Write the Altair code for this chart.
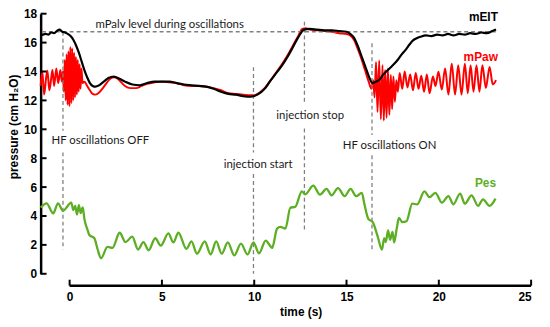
import altair as alt
import pandas as pd

# ---------------- data ----------------
eit_t = [-1.57, -1.45, -1.3, -1.15, -1.0, -0.85, -0.7, -0.55, -0.4, -0.25, -0.1, 0.05, 0.2, 0.35, 0.5, 0.65,
         0.8, 0.95, 1.1, 1.25, 1.4, 1.6, 1.85, 2.1, 2.4, 2.7, 3.0, 3.4, 3.8, 4.2, 4.6, 5.0, 5.4, 5.8, 6.2, 6.6,
         7.0, 7.4, 7.8, 8.2, 8.6, 9.0, 9.4, 9.8, 10.0, 10.3, 10.6, 10.9, 11.2, 11.5, 11.8, 12.1, 12.4, 12.7,
         13.0, 13.4, 13.8, 14.2, 14.6, 15.0, 15.2, 15.4, 15.6, 15.8, 16.0, 16.2, 16.4, 16.6, 16.8, 17.0, 17.2,
         17.4, 17.6, 17.8, 18.0, 18.2, 18.4, 18.6, 18.8, 19.0, 19.3, 19.6, 19.9, 20.2, 20.5, 20.8, 21.1, 21.4,
         21.7, 22.0, 22.3, 22.6, 22.9, 23.1]
eit_v = [16.5, 16.55, 16.6, 16.55, 16.7, 16.65, 16.8, 16.9, 16.75, 16.7, 16.6, 16.45, 16.2, 15.8, 15.3, 14.7,
         14.1, 13.6, 13.2, 13.0, 12.95, 13.05, 13.3, 13.55, 13.65, 13.5, 13.3, 13.1, 13.05, 13.2, 13.3, 13.3,
         13.3, 13.2, 13.1, 13.05, 13.0, 12.95, 12.8, 12.6, 12.45, 12.4, 12.3, 12.25, 12.3, 12.5, 12.85, 13.4,
         13.9, 14.4, 15.0, 15.7, 16.4, 16.9, 16.95, 16.9, 16.85, 16.85, 16.8, 16.75, 16.6, 16.35, 15.8, 15.1,
         14.4, 13.7, 13.2, 13.3, 13.45, 13.8, 14.05, 14.3, 14.55, 14.85, 15.2, 15.5, 15.85, 16.15, 16.3, 16.4,
         16.5, 16.45, 16.55, 16.5, 16.6, 16.5, 16.6, 16.55, 16.65, 16.6, 16.7, 16.65, 16.8, 16.9]

paw_t = [-1.57, -1.48, -1.38, -1.27, -1.2, -1.1, -1.0, -0.93, -0.84, -0.72, -0.62, -0.5, -0.42, -0.36,
         -0.31, -0.26, -0.21, -0.16, -0.11, -0.06, -0.01, 0.04, 0.09, 0.14, 0.19, 0.24, 0.29, 0.34, 0.39,
         0.44, 0.49, 0.54, 0.59, 0.64, 0.7, 0.8, 0.95, 1.1, 1.25, 1.4, 1.6, 1.8, 2.0, 2.2, 2.4, 2.6, 2.8,
         3.0, 3.3, 3.6, 3.9, 4.2, 4.6, 5.0, 5.4, 5.8, 6.2, 6.6, 7.0, 7.4, 7.8, 8.2, 8.6, 9.0, 9.4, 9.8, 10.0,
         10.3, 10.6, 10.9, 11.2, 11.5, 11.8, 12.1, 12.4, 12.6, 12.8, 13.0, 13.4, 13.8, 14.2, 14.6, 15.0, 15.2,
         15.4, 15.6, 15.8, 16.0, 16.2, 16.35, 16.45, 16.52, 16.6, 16.68, 16.77, 16.86, 16.95, 17.02, 17.09,
         17.17, 17.24, 17.32, 17.4, 17.47, 17.54, 17.62, 17.7, 17.78, 17.88, 18.02, 18.15, 18.3, 18.45, 18.6,
         18.75, 18.9, 19.05, 19.2, 19.35, 19.5, 19.68, 19.82, 19.98, 20.16, 20.34, 20.52, 20.7, 20.88, 21.05,
         21.23, 21.41, 21.57, 21.72, 21.88, 22.04, 22.2, 22.36, 22.55, 22.75, 22.92, 23.1]
paw_v = [13.0, 14.0, 12.4, 13.6, 14.05, 12.7, 13.5, 14.1, 13.0, 14.2, 13.2, 14.1, 13.3, 14.0,
         12.6, 14.8, 12.0, 15.2, 11.7, 15.4, 11.6, 15.7, 11.8, 15.6, 12.0, 15.3, 12.2, 15.0, 12.4,
         14.8, 12.6, 14.5, 12.8, 14.2, 13.2, 13.3, 13.0, 12.7, 12.45, 12.4, 12.55, 12.85, 13.2, 13.5, 13.6,
         13.5, 13.25, 13.0, 12.85, 12.85, 13.0, 13.15, 13.25, 13.3, 13.25, 13.2, 13.05, 13.0, 13.0, 12.95,
         12.85, 12.7, 12.5, 12.45, 12.4, 12.35, 12.35, 12.55, 12.9, 13.4, 13.95, 14.5, 15.1, 15.8, 16.5,
         16.95, 17.0, 16.9, 16.85, 16.8, 16.75, 16.65, 16.6, 16.5, 16.2, 15.6, 14.9, 14.1, 13.3, 12.8,
         13.4, 12.2, 14.65, 11.2, 14.77, 10.7, 14.43, 10.6, 14.1, 10.8, 14.2, 11.0, 13.76, 11.4, 13.65, 11.9,
         13.4, 12.6, 13.9, 12.8, 14.0, 12.9, 13.8, 12.7, 13.9, 12.8, 13.7, 12.6, 13.8, 12.5, 13.65, 13.0,
         13.98, 12.75, 14.2, 12.4, 14.54, 12.4, 14.43, 12.4, 14.54, 12.5, 14.43, 12.6, 14.43, 12.6, 14.43,
         12.86, 14.32, 13.1, 13.4]

pes_t = [-1.57, -1.25, -0.89, -0.63, -0.36, 0.09, 0.2, 0.3, 0.4, 0.5, 0.6, 0.71, 0.8, 0.98, 1.07, 1.34,
         1.52, 1.7, 2.05, 2.32, 2.71, 3.03, 3.39, 3.71, 4.0, 4.28, 4.64, 4.94, 5.35, 5.62, 5.89, 6.33, 6.6,
         6.9, 7.32, 7.64, 7.94, 8.24, 8.57, 8.92, 9.28, 9.64, 9.96, 10.26, 10.62, 10.92, 10.97, 11.24, 11.42,
         11.69, 11.96, 12.22, 12.58, 12.76, 13.2, 13.56, 13.92, 14.19, 14.54, 14.9, 15.22, 15.52, 15.83,
         15.97, 16.18, 16.42, 16.69, 16.92, 17.04, 17.13, 17.25, 17.36, 17.49, 17.58, 17.72, 17.84, 18.02,
         18.25, 18.56, 18.83, 19.22, 19.5, 19.81, 20.17, 20.52, 20.79, 21.15, 21.41, 21.77, 22.13, 22.39,
         22.75, 23.07]
pes_v = [4.58, 4.88, 4.18, 4.88, 4.36, 4.93, 4.4, 4.7, 4.1, 4.75, 4.2, 4.6, 3.8, 3.0, 2.68, 2.46,
         1.68, 1.07, 1.86, 1.79, 2.84, 2.19, 2.57, 1.68, 2.19, 1.63, 2.46, 1.95, 2.8, 2.17, 2.84, 1.73, 2.24,
         1.39, 2.24, 1.34, 2.24, 1.39, 2.17, 1.27, 2.08, 1.34, 2.17, 1.41, 2.3, 1.84, 1.79, 3.13, 3.24,
         3.13, 4.58, 4.63, 5.7, 5.5, 6.1, 5.48, 5.88, 5.43, 5.93, 5.37, 5.88, 5.37, 5.6,
         4.81, 3.8, 3.58, 2.57, 1.68, 2.46, 2.2, 3.0, 2.35, 2.9, 2.17, 3.13, 3.87, 3.58,
         3.64, 4.85, 4.81, 5.7, 5.3, 5.6, 4.93, 5.37, 4.81, 5.55, 4.85, 5.42, 4.7, 5.15,
         4.7, 5.2]

x_ticks = [0, 5, 10, 15, 20, 25]
y_ticks = [0, 2, 4, 6, 8, 10, 12, 14, 16, 18]

# dashed event markers (two pieces each, broken around the labels)
event_t = [-0.36, -0.36, 9.96, 9.96, 12.72, 12.72, 16.38, 16.38]
event_top = [16.75, 8.4, 14.3, 6.9, 17.45, 10.05, 15.95, 8.2]
event_bottom = [9.9, 1.68, 8.4, 0.0, 11.7, 3.0, 9.6, 1.56]

level_value = [16.75]
level_start = [-1.5]
level_end = [23.1]

ann_text = ["mPalv level during oscillations", "HF oscillations OFF", "injection start",
            "injection stop", "HF oscillations ON"]
ann_t = [1.4, -0.98, 8.35, 11.2, 14.8]
ann_v = [17.2, 9.2, 7.5, 10.9, 8.85]

series_names = ["mEIT", "mPaw", "Pes"]
series_colors = ["#000000", "#ff0000", "#5cae22"]
label_t = [23.2, 23.2, 23.1]
label_v = [17.8, 15.0, 6.3]

# ---------------- chart ----------------
W, H = 496, 263
AXIS_OFF = 12
xs = alt.Scale(domain=[-1.57, 25], nice=False, zero=False)
ys = alt.Scale(domain=[0, 18], nice=False, zero=False)
cscale = alt.Scale(domain=series_names, range=series_colors)

x_axis = alt.Axis(values=x_ticks, offset=AXIS_OFF, domain=False, ticks=False, tickSize=0,
                  labelPadding=6, labelFontSize=12, labelFontWeight="bold", labelFont="Liberation Sans",
                  labelColor="black", labelOverlap=False, title="time (s)", titleFont="Liberation Sans",
                  titleFontSize=12, titleFontWeight="bold", titleColor="black", titlePadding=4, titleX=263,
                  grid=False)
y_axis = alt.Axis(values=y_ticks, domain=True, domainColor="black", domainWidth=2.5, ticks=False,
                  tickSize=0, labelPadding=4, labelFontSize=12, labelFontWeight="bold",
                  labelFont="Liberation Sans", labelColor="black", labelOverlap=False,
                  title="pressure (cm H₂O)", titleFont="Liberation Sans", titleFontSize=12,
                  titleFontWeight="bold", titleColor="black", titleX=-20, titleY=114, grid=False)


def X(field):
    return alt.X(field, scale=xs, axis=x_axis)


def Y(field):
    return alt.Y(field, scale=ys, axis=y_axis)


eit = pd.DataFrame({"t": eit_t, "v": eit_v})
paw = pd.DataFrame({"t": paw_t, "v": paw_v})
pes = pd.DataFrame({"t": pes_t, "v": pes_v})

line_paw = alt.Chart(paw).mark_line(color="#ff0000", strokeWidth=2, interpolate="monotone").encode(
    x=X("t:Q"), y=Y("v:Q"))
line_eit = alt.Chart(eit).mark_line(color="#000000", strokeWidth=2.2, interpolate="monotone").encode(
    x=X("t:Q"), y=Y("v:Q"))
line_pes = alt.Chart(pes).mark_line(color="#5cae22", strokeWidth=2.3, interpolate="monotone").encode(
    x=X("t:Q"), y=Y("v:Q"))

ev = pd.DataFrame({"t": event_t, "top": event_top, "bottom": event_bottom})
events = alt.Chart(ev).mark_rule(color="#808080", strokeWidth=1.3, strokeDash=[4, 3]).encode(
    x=X("t:Q"), y=Y("top:Q"), y2="bottom:Q")

lv = pd.DataFrame({"v": level_value, "a": level_start, "b": level_end})
level = alt.Chart(lv).mark_rule(color="#808080", strokeWidth=1.3, strokeDash=[4, 3]).encode(
    x=X("a:Q"), x2="b:Q", y=Y("v:Q"))

an = pd.DataFrame({"txt": ann_text, "t": ann_t, "v": ann_v})
annotations = alt.Chart(an).mark_text(align="left", baseline="middle", font="Lato", fontSize=11.5,
                                      color="#1a1a1a").encode(
    x=X("t:Q"), y=Y("v:Q"), text="txt:N")

lb = pd.DataFrame({"name": series_names, "t": label_t, "v": label_v})
labels = alt.Chart(lb).mark_text(align="right", baseline="middle", font="Liberation Sans", fontSize=12,
                                 fontWeight="bold").encode(
    x=X("t:Q"), y=Y("v:Q"), text="name:N",
    color=alt.Color("name:N", scale=cscale, legend=None))

# custom inward-facing axis ticks and the offset x-axis line
xt = pd.DataFrame({"t": x_ticks})
x_tick_marks = alt.Chart(xt).mark_rule(color="black", strokeWidth=2).encode(
    x=X("t:Q"), y=alt.value(H + AXIS_OFF - 6), y2=alt.value(H + AXIS_OFF))
xl = pd.DataFrame({"a": [x_ticks[0]], "b": [x_ticks[-1]]})
x_line = alt.Chart(xl).mark_rule(color="black", strokeWidth=2.5).encode(
    x=X("a:Q"), x2="b:Q", y=alt.value(H + AXIS_OFF))
yt = pd.DataFrame({"v": y_ticks})
y_tick_marks = alt.Chart(yt).mark_rule(color="black", strokeWidth=2).encode(
    y=Y("v:Q"), x=alt.value(0), x2=alt.value(6))

chart = alt.layer(
    line_paw, level, events, line_eit, line_pes, annotations, labels,
    x_tick_marks, x_line, y_tick_marks
).properties(
    width=W, height=H,
    autosize=alt.AutoSizeParams(type="none"),
    padding={"left": 33, "top": 4, "right": 11, "bottom": 48},
    background="white",
).configure_view(stroke=None)

chart.save("out.html", embed_options={"renderer": "svg", "actions": False})
